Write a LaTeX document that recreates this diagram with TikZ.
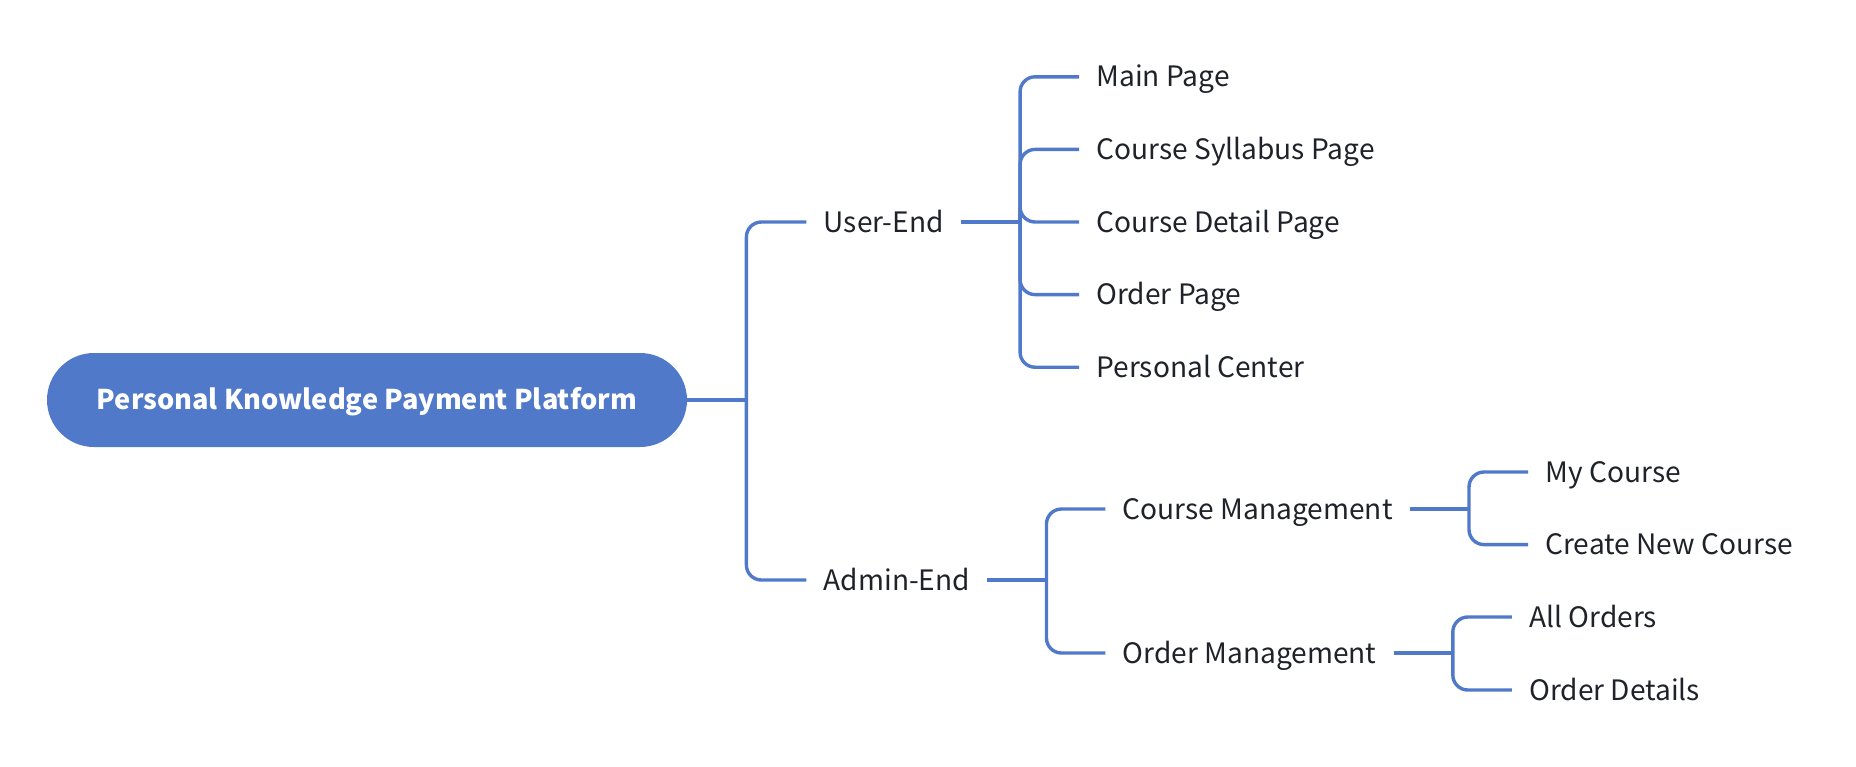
\documentclass[tikz,border=0pt]{standalone}
\usepackage{fontspec}
\setmainfont{Noto Sans CJK SC}
\usetikzlibrary{positioning}

\definecolor{mapblue}{RGB}{80,121,201}
\definecolor{mapink}{RGB}{31,35,41}

\tikzset{
  root/.style={fill=mapblue, text=white, inner sep=0pt,
    font=\fontsize{13.6}{16}\selectfont\bfseries,
    text height=9.6pt, text depth=0pt,
    minimum width=320pt, minimum height=47pt, rounded corners=23.5pt},
  topic/.style={text=mapink, inner xsep=8.5pt, inner ysep=2pt,
    text height=10pt, text depth=0pt,
    font=\fontsize{14.05}{17}\selectfont},
  branch/.style={draw=mapblue, line width=1.7pt},
  fork/.style={branch, rounded corners=7.5pt},
}

\begin{document}
\begin{tikzpicture}[x=0.5pt, y=-0.5pt]

\newcommand\G{36.3pt} % leaf spacing
\newcommand\D{59pt}   % parent to child

\useasboundingbox (0,0) rectangle (1856,766);

%% root
\node[root] (pkpp) at (367,400) {Personal Knowledge Payment Platform};

%% first level
\node[topic, right=59.5pt of pkpp, yshift=89pt] (user) {User-End};
\node[topic, right=59.5pt of pkpp, yshift=-90pt] (admin) {Admin-End};

%% user end pages
\node[topic, right=\D of user, yshift=2*\G] (mainpg) {Main Page};
\node[topic, right=\D of user, yshift=\G] (syllabus) {Course Syllabus Page};
\node[topic, right=\D of user] (detail) {Course Detail Page};
\node[topic, right=\D of user, yshift=-\G] (orderpg) {Order Page};
\node[topic, right=\D of user, yshift=-2*\G] (personal) {Personal Center};

%% admin end
\node[topic, right=\D of admin, yshift=35.5pt] (coursemgmt) {Course Management};
\node[topic, right=\D of admin, yshift=-36.5pt] (ordermgmt) {Order Management};

\node[topic, right=\D of coursemgmt, yshift=18.5pt] (mycourse) {My Course};
\node[topic, right=\D of coursemgmt, yshift=-17.8pt] (newcourse) {Create New Course};
\node[topic, right=\D of ordermgmt, yshift=18pt] (allorders) {All Orders};
\node[topic, right=\D of ordermgmt, yshift=-18.5pt] (orderdetails) {Order Details};

%% connectors
\draw[branch] (pkpp.east) -- ++(29.5pt,0) coordinate (pkppfork);
\foreach \kid in {user, admin}
  \draw[fork] (pkppfork) |- (\kid.west);

\draw[branch] (user.east) -- ++(29.5pt,0) coordinate (userfork);
\foreach \kid in {mainpg, syllabus, detail, orderpg, personal}
  \draw[fork] (userfork) |- (\kid.west);

\draw[branch] (admin.east) -- ++(29.5pt,0) coordinate (adminfork);
\foreach \kid in {coursemgmt, ordermgmt}
  \draw[fork] (adminfork) |- (\kid.west);

\draw[branch] (coursemgmt.east) -- ++(29.5pt,0) coordinate (coursefork);
\foreach \kid in {mycourse, newcourse}
  \draw[fork] (coursefork) |- (\kid.west);

\draw[branch] (ordermgmt.east) -- ++(29.5pt,0) coordinate (orderfork);
\foreach \kid in {allorders, orderdetails}
  \draw[fork] (orderfork) |- (\kid.west);

\end{tikzpicture}
\end{document}
